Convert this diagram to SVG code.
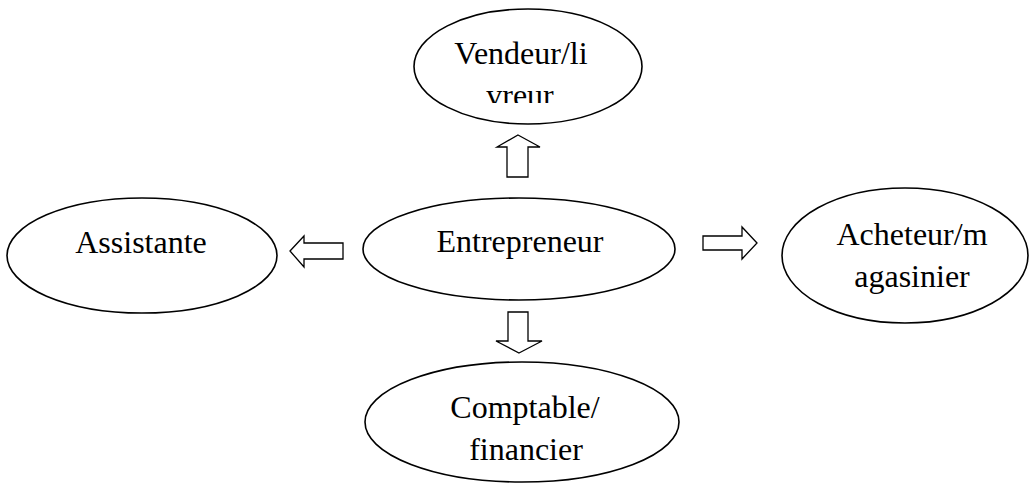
<svg xmlns="http://www.w3.org/2000/svg" width="1032" height="484" viewBox="0 0 1032 484">
  <style>
    .node ellipse { fill: #ffffff; stroke: #000000; stroke-width: 1.6; }
    .node text { font-family: 'Liberation Serif', 'Times New Roman', Times, serif; font-size: 32px; fill: #000000; text-anchor: middle; }
    .arrow { fill: #ffffff; stroke: #000000; stroke-width: 1.3; stroke-linejoin: miter; }
  </style>
  <defs>
    <clipPath id="vendeur-clip">
      <rect x="400" y="0" width="260" height="103"/>
    </clipPath>
  </defs>
  <rect width="1032" height="484" fill="#ffffff"/>

  <!-- block arrows from the centre node -->
  <g id="connectors">
    <polygon class="arrow" points="518,135 540,147 528,147 528,177 507,177 507,147 497,147"/>
    <polygon class="arrow" points="519,353 542,341 528,341 528,312 508,312 508,341 496,341"/>
    <polygon class="arrow" points="290,251 304,236 304,243 343,243 343,259 304,259 304,267"/>
    <polygon class="arrow" points="757,243 742,227 742,236 703,236 703,250 742,250 742,259"/>
  </g>

  <g id="vendeur" class="node">
    <ellipse cx="528" cy="66.5" rx="114" ry="57.5"/>
    <text x="521" y="64" font-family="Liberation Serif, serif">Vendeur/li</text>
    <text x="520" y="106" font-family="Liberation Serif, serif" clip-path="url(#vendeur-clip)">vreur</text>
  </g>

  <g id="entrepreneur" class="node">
    <ellipse cx="519" cy="249" rx="156" ry="51"/>
    <text x="520" y="252" font-family="Liberation Serif, serif">Entrepreneur</text>
  </g>

  <g id="assistante" class="node">
    <ellipse cx="142" cy="255.5" rx="135" ry="57.5"/>
    <text x="141" y="253" font-family="Liberation Serif, serif">Assistante</text>
  </g>

  <g id="acheteur" class="node">
    <ellipse cx="905" cy="255.5" rx="123" ry="67.5"/>
    <text x="912" y="245" font-family="Liberation Serif, serif">Acheteur/m</text>
    <text x="912" y="287" font-family="Liberation Serif, serif">agasinier</text>
  </g>

  <g id="comptable" class="node">
    <ellipse cx="522" cy="422" rx="157" ry="60"/>
    <text x="525" y="418" font-family="Liberation Serif, serif">Comptable/</text>
    <text x="526" y="460" font-family="Liberation Serif, serif">financier</text>
  </g>
</svg>
